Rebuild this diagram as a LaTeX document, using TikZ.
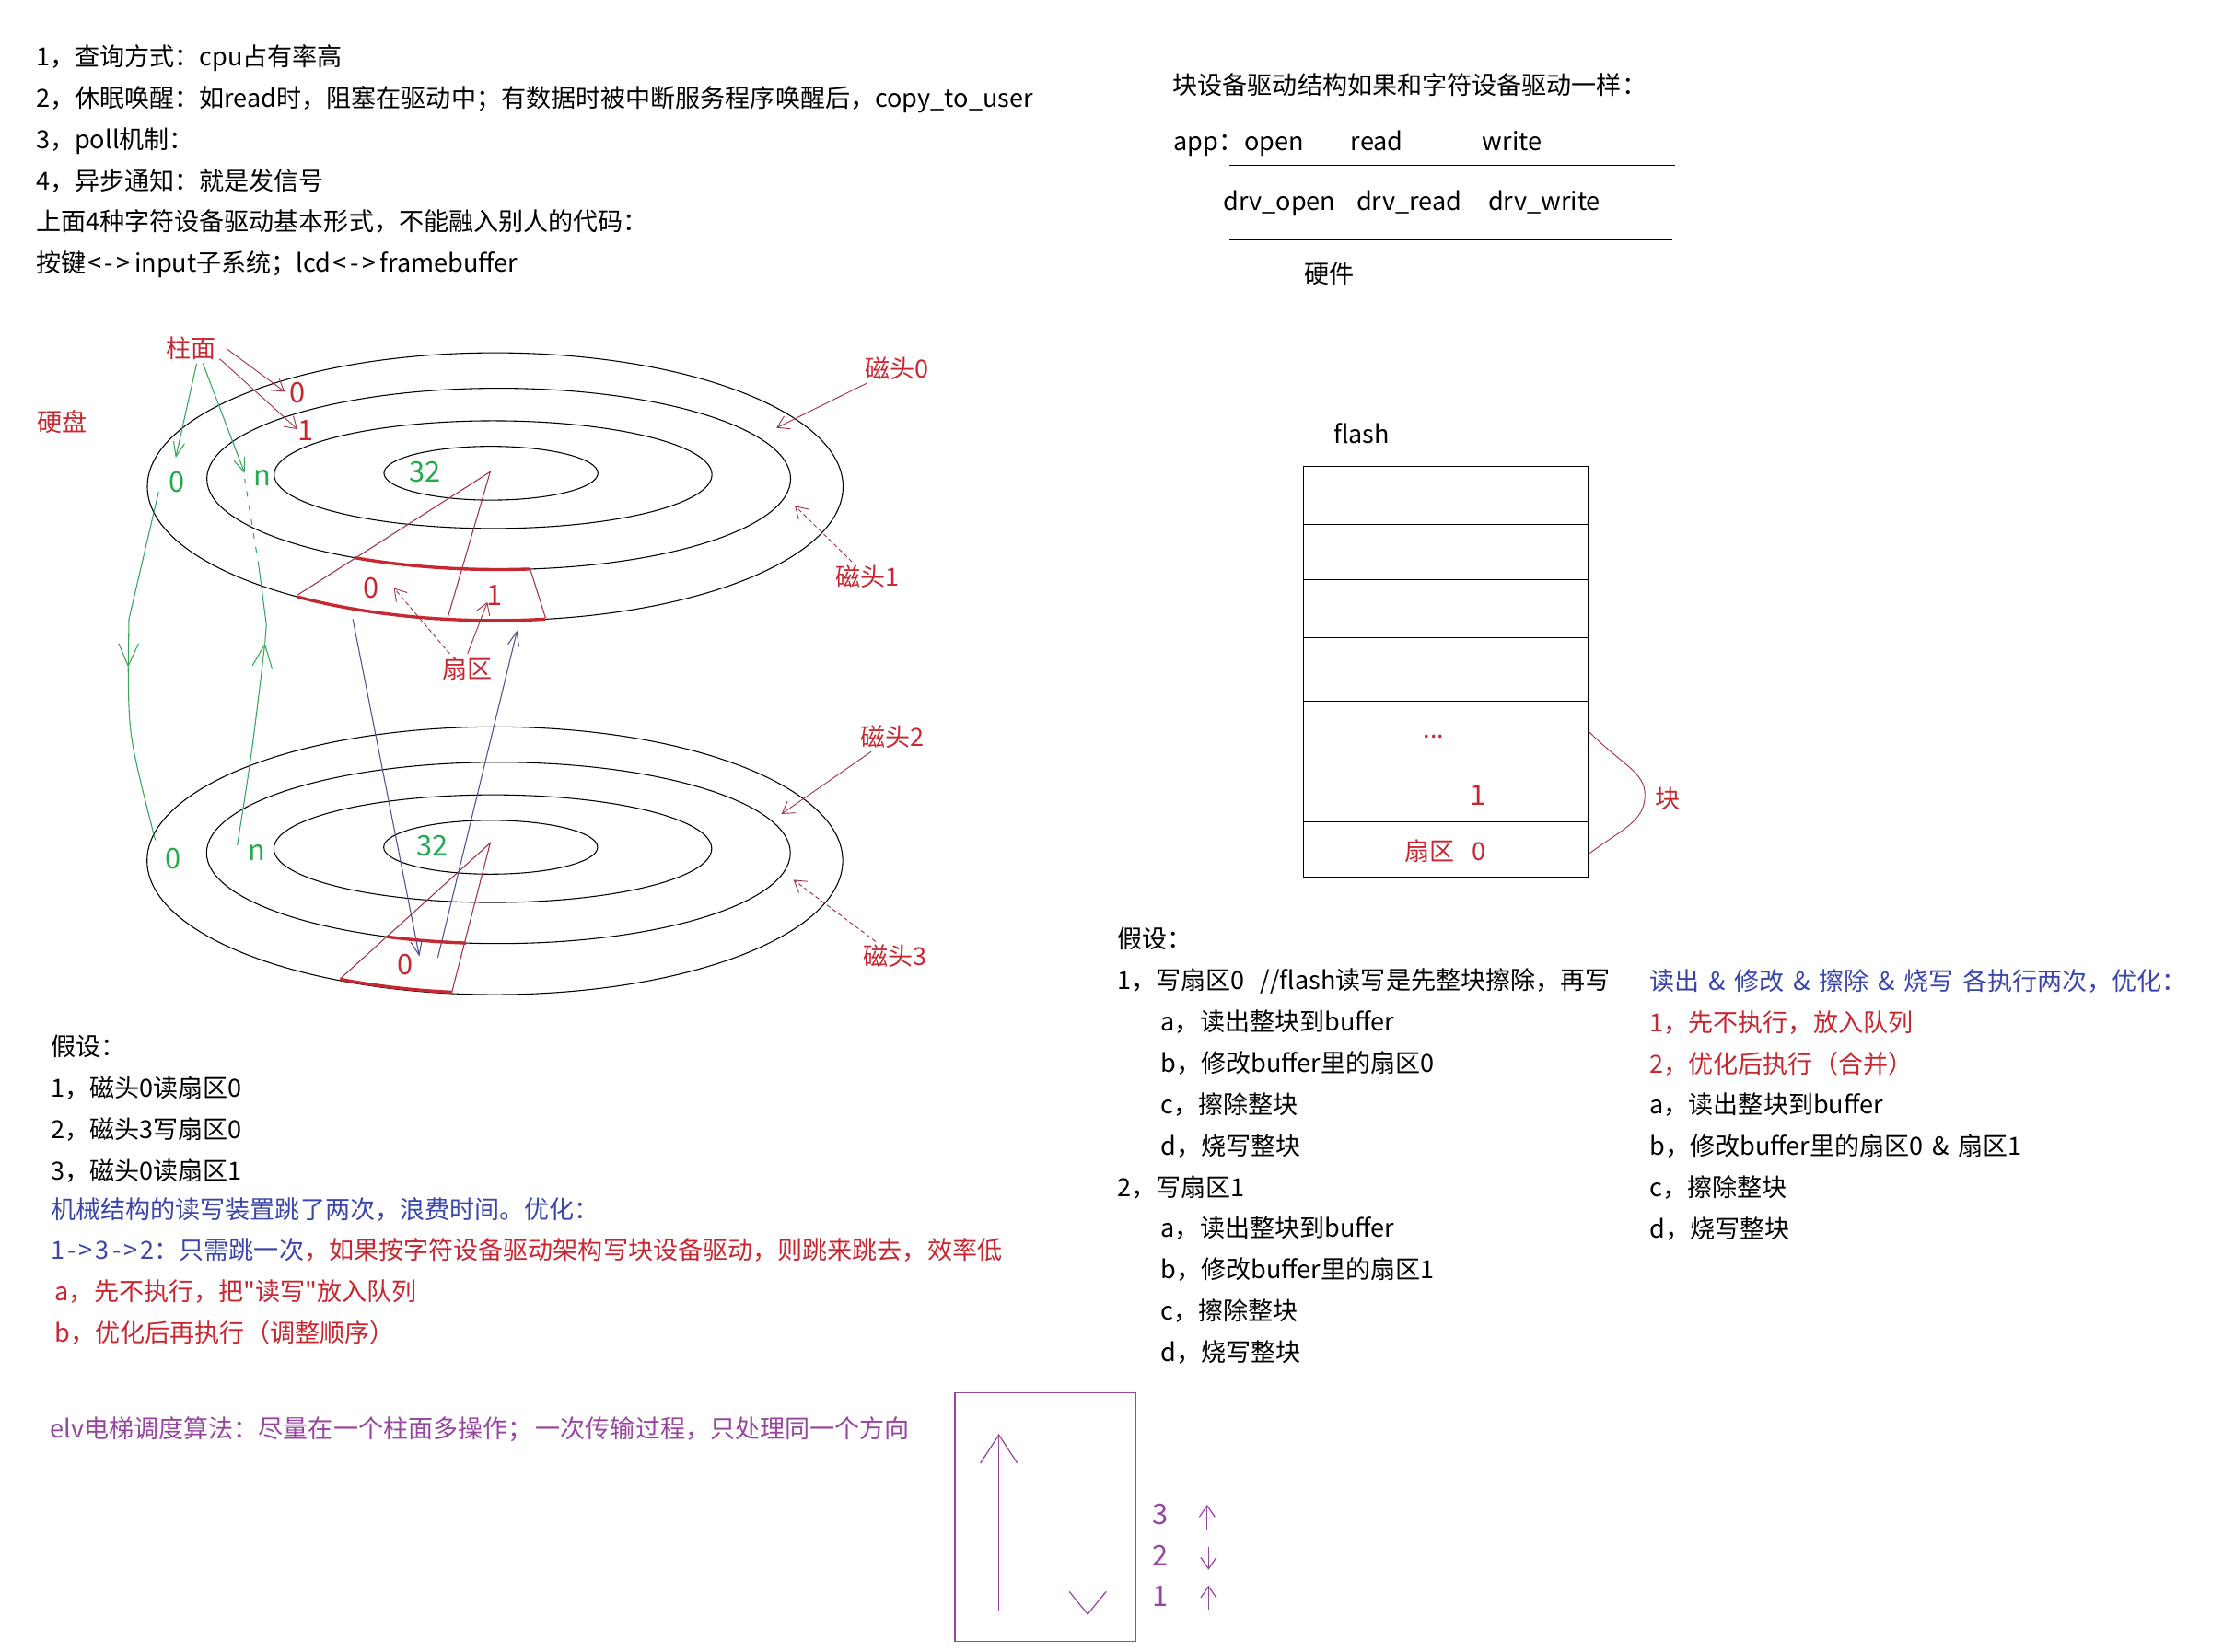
\documentclass[tikz,border=0pt]{standalone}
\usepackage{fontspec}
\setmainfont{Noto Sans CJK SC}[Ligatures=TeXOff,WordSpace=1.6]
\usetikzlibrary{calc}
\usetikzlibrary{arrows.meta}
\definecolor{labelred}{RGB}{198,40,50}
\definecolor{labelgreen}{RGB}{35,170,80}
\definecolor{labelblue}{RGB}{60,70,170}
\definecolor{labelpurple}{RGB}{150,70,160}
\definecolor{linemaroon}{RGB}{160,50,70}
\definecolor{linegreen}{RGB}{55,165,90}
\definecolor{lineblue}{RGB}{80,80,150}
\newcommand{\blockfont}{\fontsize{8.8}{14.6}\selectfont}
\newcommand{\digitfont}{\fontsize{10}{12}\selectfont}
\newcommand{\bothways}{\hspace{0.6pt}<\hspace{1.2pt}-\hspace{1.2pt}>\hspace{1.4pt}}
\newcommand{\oneway}{\hspace{1pt}-\hspace{1pt}>\hspace{1pt}}
\tikzstyle{textblock}=[anchor=north west,align=left,inner sep=0pt,font=\blockfont]
\tikzstyle{plainlabel}=[inner sep=1pt,font=\blockfont,xshift=0.5pt,yshift=-0.5pt]
\tikzstyle{redlabel}=[plainlabel,text=labelred]
\tikzstyle{reddigit}=[redlabel,font=\digitfont]
\tikzstyle{greenlabel}=[plainlabel,text=labelgreen,font=\digitfont]
\tikzstyle{purplelabel}=[plainlabel,text=labelpurple,font=\digitfont]
\tikzstyle{diskline}=[black,line width=0.35pt]
\tikzstyle{sectorline}=[linemaroon,line width=0.35pt]
\tikzstyle{sectorarc}=[labelred,line width=1.1pt]
\tikzstyle{headarrow}=[linemaroon,line width=0.3pt,-{Straight Barb[length=4pt,width=5pt]}]
\tikzstyle{greenarrow}=[linegreen,line width=0.35pt,-{Straight Barb[length=5pt,width=4pt]}]
\tikzstyle{bluearrow}=[lineblue,line width=0.35pt,-{Straight Barb[length=5pt,width=4pt]}]
\tikzstyle{purpleline}=[labelpurple,line width=0.4pt]
\newcommand{\diskarc}[5]{ % cx, cy, rx, ry, start:end
\draw[sectorarc,variable=\t,domain=#5,samples=25,smooth] plot ({#1+#3*cos(\t)},{#2+#4*sin(\t)});
}
\begin{document}
\begin{tikzpicture}[x=0.5pt,y=-0.5pt]
\useasboundingbox (0,0) rectangle (1569,1166);
% text on the top left
\node[textblock] (kinds) at (25,31) {1，查询方式：cpu占有率高\\
2，休眠唤醒：如read时，阻塞在驱动中；有数据时被中断服务程序唤醒后，copy\_to\_user\\
3，poll机制：\\
4，异步通知：就是发信号\\
上面4种字符设备驱动基本形式，不能融入别人的代码：\\
按键\bothways input子系统；lcd\bothways framebuffer};
% two disks
\foreach \dy/\dx in {0/0,264/-0.2} {
\begin{scope}[shift={(\dx,\dy)}]
	\foreach \cx/\cy/\rx/\ry in {349.5/343.5/245.5/94.5,352/338/206/64,348/335/154.5/38,346.5/334/75.5/19}
		\draw[diskline] (\cx,\cy) ellipse [x radius=\rx,y radius=\ry];
\end{scope}
}
% sectors on top disk
\coordinate (topapex) at (346,333);
\coordinate (topleft) at (210,420);
\coordinate (topmid) at (316,436);
\coordinate (topright) at (385,436);
\coordinate (topinner) at (374,401);
\draw[sectorline] (topleft) -- (topapex) -- (topmid);
\draw[sectorline] (topinner) -- (topright);
\diskarc{349.5}{343.5}{245.5}{94.5}{81.7:124.6}
\diskarc{352}{338}{206}{64}{83.9:119.4}
% sector on bottom disk
\coordinate (lowapex) at (346,595);
\coordinate (lowleft) at (240,691);
\coordinate (lowright) at (319,700);
\draw[sectorline] (lowleft) -- (lowapex) -- (lowright);
\diskarc{349}{607}{245}{94}{97:116.4}
\diskarc{351.5}{602}{206}{64}{96.3:112.4}
% disk labels
\node[redlabel] (harddisk) at (43,297) {硬盘};
\node[redlabel] (cylinder) at (134,245) {柱面};
\node[reddigit] (cylzero) at (209,276) {0};
\node[reddigit] (cylone) at (215,303) {1};
\node[greenlabel] (topzero) at (124,339) {0};
\node[greenlabel] (topn) at (184,336) {n};
\node[greenlabel] (toptrack) at (299,332) {32};
\node[greenlabel] (lowzero) at (121,605) {0};
\node[greenlabel] (lown) at (180,601) {n};
\node[greenlabel] (lowtrack) at (304,596) {32};
\node[reddigit] (sectorzero) at (261,414) {0};
\node[reddigit] (sectorone) at (348,419) {1};
\node[reddigit] (sectorlow) at (285,680) {0};
\node[redlabel] (sectors) at (329,471) {扇区};
\node[redlabel] (headzero) at (632,259) {磁头0};
\node[redlabel] (headone) at (611,406) {磁头1};
\node[redlabel] (headtwo) at (629,519) {磁头2};
\node[redlabel] (headthree) at (631,674) {磁头3};
% head arrows
\coordinate (headzeroend) at (548,302);
\coordinate (headoneend) at (561,357);
\coordinate (headtwoend) at (551.6,574.5);
\coordinate (headthreeend) at (560,621);
\draw[headarrow] (headzero) -- (headzeroend);
\draw[headarrow,dashed,dash pattern=on 1.5pt off 1pt] (headone) -- (headoneend);
\draw[headarrow] (headtwo) -- (headtwoend);
\draw[headarrow,dashed,dash pattern=on 1.5pt off 1pt] (headthree) -- (headthreeend);
% cylinder arrows
\coordinate (cylzeroend) at (201,276.5);
\coordinate (cylonend) at (210,303);
\coordinate (greenzeroend) at (124,323);
\coordinate (greennend) at (172.7,334);
\draw[headarrow,shorten <=3pt] (cylinder.10) -- (cylzeroend);
\draw[headarrow] (cylinder.-20) -- (cylonend);
\draw[greenarrow] (cylinder.-70) -- (greenzeroend);
\draw[greenarrow] (cylinder.-52) -- (greennend);
% sector arrows
\coordinate (sectorzeroend) at (278,415);
\coordinate (sectoronend) at (344,425);
\draw[headarrow,dashed,dash pattern=on 1.5pt off 1pt] (sectors.140) -- (sectorzeroend);
\draw[headarrow] (sectors.north) -- (sectoronend);
% green paths between the disks
\coordinate (downstart) at (112,347);
\coordinate (downbend) at (91,437);
\coordinate (downhead) at (90.5,471);
\coordinate (downend) at (109.6,593);
\draw[linegreen,line width=0.35pt] (downstart) -- (downbend);
\draw[greenarrow,-{Straight Barb[length=8pt,width=7pt]}] (downbend) -- (downhead);
\draw[linegreen,line width=0.35pt] (downhead) .. controls (91,520) .. (downend);
\coordinate (upstart) at (167.5,596.5);
\coordinate (uphead) at (187,454);
\coordinate (upbend) at (188,441);
\coordinate (upfade) at (182.7,400);
\coordinate (upend) at (172.7,338);
\draw[greenarrow,-{Straight Barb[length=8pt,width=7pt]}] (upstart) .. controls (178,530) .. (uphead);
\draw[linegreen,line width=0.35pt] (uphead) -- (upbend) -- (upfade);
\draw[linegreen,line width=0.35pt,dashed,dash pattern=on 2pt off 3pt] (upfade) -- (upend);
% seek arrows
\coordinate (seekdownstart) at (249,437);
\coordinate (seekdownend) at (296,675);
\coordinate (seekupstart) at (309,676);
\coordinate (seekupend) at (365,445);
\draw[bluearrow] (seekdownstart) -- (seekdownend);
\draw[bluearrow] (seekupstart) -- (seekupend);
% text below the disks
\node[textblock] (assume) at (35.5,730) {假设：\\
1，磁头0读扇区0\\
2，磁头3写扇区0\\
3，磁头0读扇区1\\[-1pt]
\textcolor{labelblue}{机械结构的读写装置跳了两次，浪费时间。优化：}\\
\textcolor{labelblue}{1\oneway 3\oneway 2：只需跳一次}\textcolor{labelred}{，如果按字符设备驱动架构写块设备驱动，则跳来跳去，效率低}\\
\textcolor{labelred}{\,a，先不执行，把"读写"放入队列}\\
\textcolor{labelred}{\,b，优化后再执行（调整顺序）}};
\node[textblock,text=labelpurple] (elevator) at (35,999.5) {elv电梯调度算法：尽量在一个柱面多操作；\hspace{1pt}一次传输过程，只处理同一个方向};
% elevator box
\node[draw=labelpurple,line width=0.4pt,minimum width=63.75pt,minimum height=87.75pt,inner sep=0pt] (elvbox) at (737.7,1071) {};
\coordinate (bigupstart) at (705,1137);
\coordinate (bigupend) at (705,1012);
\coordinate (bigdownstart) at (767.7,1014);
\coordinate (bigdownend) at (767.7,1140);
\draw[purpleline,-{Straight Barb[length=10pt,width=13pt]}] (bigupstart) -- (bigupend);
\draw[purpleline,-{Straight Barb[length=8pt,width=13pt]}] (bigdownstart) -- (bigdownend);
\node[purplelabel] (stepthree) at (818,1068) {3};
\node[purplelabel] (steptwo) at (818,1097) {2};
\node[purplelabel] (stepone) at (818,1126) {1};
\coordinate (threestart) at (852,1080);
\coordinate (threeend) at (852,1062);
\coordinate (twostart) at (853,1092);
\coordinate (twoend) at (853,1108);
\coordinate (onestart) at (853,1136);
\coordinate (oneend) at (853,1119);
\draw[purpleline,-{Straight Barb[length=4pt,width=5.5pt]}] (threestart) -- (threeend);
\draw[purpleline,-{Straight Barb[length=4pt,width=5.5pt]}] (twostart) -- (twoend);
\draw[purpleline,-{Straight Barb[length=4pt,width=5.5pt]}] (onestart) -- (oneend);
% driver layers
\node[plainlabel] (blockdriver) at (994,59) {块设备驱动结构如果和字符设备驱动一样：};
\node[plainlabel,anchor=base west] (app) at (825,105.5) {app：};
\node[plainlabel,anchor=base west] (open) at (875,105.5) {open};
\node[plainlabel,anchor=base west] (read) at (950,105.5) {read};
\node[plainlabel,anchor=base west] (write) at (1043,105.5) {write};
\node[plainlabel,anchor=base west] (drvopen) at (860,147.5) {drv\_open};
\node[plainlabel,anchor=base west] (drvread) at (954,147.5) {drv\_read};
\node[plainlabel,anchor=base west] (drvwrite) at (1047,147.5) {drv\_write};
\node[plainlabel] (hardware) at (937,192) {硬件};
\coordinate (upperfrom) at (868,116.5);
\coordinate (upperto) at (1182,116.5);
\coordinate (lowerfrom) at (868,169.5);
\coordinate (lowerto) at (1180,169.5);
\draw[diskline] (upperfrom) -- (upperto);
\draw[diskline] (lowerfrom) -- (lowerto);
% flash cells
\node[plainlabel] (flash) at (960,305) {flash};
\node[draw,line width=0.4pt,minimum width=100.5pt,minimum height=145pt,inner sep=0pt] (flashbox) at (1020.3,474.3) {};
\foreach \ly in {370,409,450,495,538,580} {
	\draw[diskline] (flashbox.west |- 0,\ly) -- (flashbox.east |- 0,\ly);
}
\node[redlabel] (dots) at (1011,519) {...};
\node[reddigit] (cellone) at (1042,560) {1};
\node[redlabel] (cellzero) at (1019,600) {扇区\ \ 0};
\node[redlabel] (blocklabel) at (1176,563) {块};
\coordinate (bracetop) at (1121,516);
\coordinate (bracetip) at (1161,561);
\coordinate (bracelow) at (1121,603);
\draw[linemaroon,line width=0.3pt] (bracetop) .. controls (1145,540) and (1161,545) .. (bracetip) .. controls (1161,580) and (1145,585) .. (bracelow);
% write steps
\node[textblock] (assumeflash) at (788,654) {假设：\\
1，写扇区0\hspace{2.5pt} //flash读写是先整块擦除，再写\\
\hspace{15.5pt}a，读出整块到buffer\\
\hspace{15.5pt}b，修改buffer里的扇区0\\
\hspace{15.5pt}c，擦除整块\\
\hspace{15.5pt}d，烧写整块\\
2，写扇区1\\
\hspace{15.5pt}a，读出整块到buffer\\
\hspace{15.5pt}b，修改buffer里的扇区1\\
\hspace{15.5pt}c，擦除整块\\
\hspace{15.5pt}d，烧写整块};
\node[textblock] (optimize) at (1164,683.5) {\textcolor{labelblue}{读出 \& 修改 \& 擦除 \& 烧写 各执行两次，优化：}\\
\textcolor{labelred}{1，先不执行，放入队列}\\
\textcolor{labelred}{2，优化后执行（合并）}\\
a，读出整块到buffer\\
b，修改buffer里的扇区0 \& 扇区1\\
c，擦除整块\\
d，烧写整块};
\end{tikzpicture}
\end{document}
